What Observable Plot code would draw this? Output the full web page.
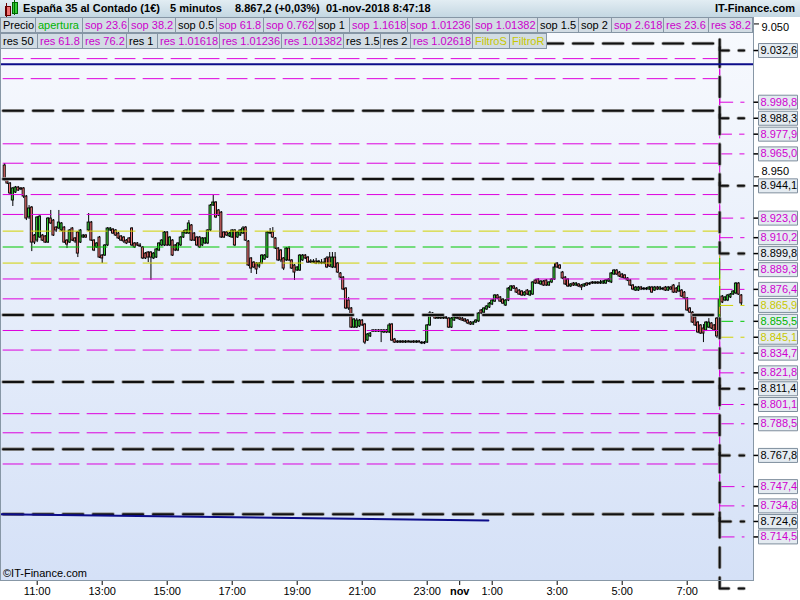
<!DOCTYPE html>
<html><head><meta charset="utf-8">
<script src="https://cdn.jsdelivr.net/npm/d3@7"></script>
<script src="https://cdn.jsdelivr.net/npm/@observablehq/plot@0.6"></script>
<style>
body{margin:0;background:#fff;font-family:"Liberation Sans",Arial,sans-serif;}
#wrap{position:relative;width:800px;height:600px;overflow:hidden;background:#fff;}
#plotbg{position:absolute;left:0;top:17px;width:753px;height:563px;background:linear-gradient(#f8fafe,#d5e1f7);}
#chart{position:absolute;left:0;top:0;}
#title{position:absolute;left:0;top:0;width:800px;height:17px;background:linear-gradient(#e2edf3,#c4d7e2);font-weight:bold;font-size:11px;color:#000;}
#title span{position:absolute;top:2px;white-space:nowrap;}
.row{position:absolute;left:0;height:16px;}
.row div{position:absolute;top:0;box-sizing:border-box;height:16px;line-height:14px;font-size:11px;padding:0 0 0 2px;border:1px solid #8696a5;background:#d2dce4;white-space:nowrap;overflow:hidden;}
#copy{position:absolute;left:3px;top:567px;font-size:11px;color:#000;}
</style></head>
<body>
<div id="wrap">
  <div id="plotbg"></div>
  <div id="chart"></div>
  <div id="title">
    <div style="position:absolute;left:5px;top:6px;width:4px;height:8px;background:#f07070;border:1px solid #600"></div>
    <div style="position:absolute;left:6px;top:3px;width:1px;height:14px;background:#600"></div>
    <div style="position:absolute;left:12px;top:2px;width:4px;height:10px;background:#3c3;border:1px solid #060"></div>
    <div style="position:absolute;left:14px;top:0px;width:1px;height:15px;background:#060"></div>
    <span style="left:23px">España 35 al Contado (1€)</span>
    <span style="left:170px">5 minutos</span>
    <span style="left:235px">8.867,2 (+0,03%)</span>
    <span style="left:326px">01-nov-2018 8:47:18</span>
    <span style="right:5px">IT-Finance.com</span>
  </div>
  <div class="row" id="row1" style="top:17px"></div>
  <div class="row" id="row2" style="top:33px"></div>
  <div id="copy">©IT-Finance.com</div>
</div>
<script>
// ---- candle data (5-minute bars from 31-oct-2018 10:00) ----
const open = [
8957.4,8947.6,8945.6,8934.5,8939.7,8943.0,8942.4,8942.4,8937.1,8923.4,
8929.9,8911.6,8908.3,8910.3,8911.6,8911.0,8907.0,8922.7,8921.4,8916.8,
8916.2,8914.9,8916.8,8908.3,8907.0,8916.2,8909.7,8913.6,8907.0,8910.3,
8911.6,8914.9,8920.1,8908.3,8903.8,8910.3,8898.5,8898.5,8905.1,8914.9,
8915.5,8914.9,8912.9,8911.0,8910.3,8908.3,8909.7,8916.2,8906.4,8906.4,
8905.1,8903.8,8899.8,8900.5,8900.5,8896.6,8897.2,8901.8,8905.1,8905.1,
8913.6,8905.1,8908.3,8905.1,8901.8,8905.1,8910.3,8912.9,8912.9,8918.2,
8912.9,8910.3,8910.3,8905.1,8906.4,8906.4,8914.9,8931.2,8933.2,8928.0,
8926.6,8913.6,8913.6,8911.0,8910.3,8914.9,8910.3,8911.6,8912.9,8916.8,
8907.7,8896.6,8893.9,8893.3,8891.3,8893.3,8895.9,8897.2,8912.9,8913.6,
8909.7,8903.1,8901.8,8896.6,8895.3,8903.1,8895.3,8892.0,8888.7,8888.7,
8895.3,8898.5,8897.2,8894.6,8893.9,8894.6,8893.9,8893.9,8893.3,8896.6,
8897.2,8890.7,8897.2,8893.3,8886.8,8884.1,8876.9,8869.1,8863.9,8851.4,
8851.4,8852.1,8856.0,8853.4,8842.9,8845.6,8849.5,8848.8,8849.5,8849.5,
8848.2,8849.5,8848.2,8853.4,8843.6,8842.3,8841.6,8842.3,8841.6,8842.3,
8841.6,8842.3,8841.6,8842.3,8841.6,8841.0,8841.6,8852.8,8860.6,8859.3,
8857.3,8858.0,8857.3,8858.0,8857.3,8851.4,8856.0,8858.0,8858.0,8857.3,
8856.7,8856.0,8854.7,8853.4,8854.7,8855.4,8862.6,8861.2,8863.2,8864.5,
8866.5,8868.4,8872.4,8871.1,8869.7,8865.8,8869.1,8875.6,8878.3,8876.9,
8875.6,8875.0,8872.4,8875.6,8872.4,8873.0,8882.2,8882.8,8879.6,8881.5,
8882.2,8878.9,8880.9,8882.8,8893.3,8892.0,8887.4,8884.1,8882.8,8878.3,
8880.2,8878.9,8879.6,8878.9,8878.3,8880.2,8879.6,8880.9,8880.2,8880.9,
8880.2,8880.2,8880.2,8881.5,8880.9,8886.1,8888.7,8887.4,8886.1,8885.5,
8883.5,8882.2,8878.9,8875.6,8875.6,8877.6,8876.3,8876.9,8876.3,8877.6,
8875.6,8877.6,8876.3,8876.9,8877.6,8875.6,8877.6,8878.9,8876.9,8875.0,
8875.6,8874.3,8870.4,8863.9,8861.2,8858.0,8854.7,8852.8,8850.8,8849.5,
8851.4,8854.1,8852.8,8857.3,8849.5,8871.7,8869.1,8869.1,8871.1,8873.0,
8873.7,8880.2,8872.4];
const high = [
8958.7,8948.2,8946.3,8943.0,8943.7,8943.7,8943.0,8943.0,8937.8,8931.2,
8930.6,8912.3,8924.0,8924.7,8912.3,8911.6,8923.4,8928.0,8922.1,8917.5,
8928.0,8920.1,8917.5,8909.0,8915.5,8916.8,8910.3,8914.2,8915.5,8912.3,
8912.3,8926.0,8920.8,8909.0,8907.0,8911.0,8899.2,8905.7,8916.8,8916.8,
8916.2,8915.5,8913.6,8911.6,8911.0,8909.0,8910.3,8916.8,8907.0,8907.0,
8906.4,8904.4,8900.5,8901.1,8901.1,8900.5,8903.1,8907.0,8909.0,8914.2,
8914.2,8911.0,8909.0,8905.7,8907.0,8911.0,8914.9,8915.5,8921.4,8918.8,
8913.6,8911.0,8911.0,8910.3,8910.3,8915.5,8931.9,8937.8,8933.8,8928.6,
8927.3,8914.2,8914.2,8913.6,8915.5,8915.5,8914.2,8915.5,8917.5,8917.5,
8908.3,8897.2,8894.6,8893.9,8893.9,8899.2,8899.2,8914.2,8916.2,8916.8,
8910.3,8903.8,8902.5,8897.2,8903.8,8904.4,8895.9,8892.6,8891.3,8899.2,
8899.2,8899.2,8897.9,8895.9,8895.9,8896.6,8895.3,8895.9,8896.6,8897.9,
8900.5,8900.5,8900.5,8893.9,8887.4,8884.8,8877.6,8871.1,8864.5,8857.3,
8857.3,8856.7,8856.7,8854.1,8847.5,8848.2,8850.1,8850.1,8850.1,8850.1,
8850.1,8850.1,8854.1,8854.1,8844.3,8842.9,8842.9,8842.9,8842.9,8842.9,
8842.3,8842.9,8842.9,8842.9,8842.3,8842.3,8853.4,8861.9,8861.2,8859.9,
8858.6,8858.6,8858.6,8858.6,8858.0,8858.0,8858.6,8858.6,8858.6,8858.0,
8857.3,8856.7,8855.4,8855.4,8856.7,8861.2,8863.2,8864.5,8865.8,8867.8,
8869.7,8873.0,8873.0,8871.7,8870.4,8869.7,8877.6,8878.9,8878.9,8877.6,
8876.3,8875.6,8875.0,8876.3,8875.6,8881.5,8882.8,8883.5,8882.2,8882.2,
8882.8,8881.5,8883.5,8893.3,8893.9,8892.6,8888.1,8884.8,8883.5,8880.2,
8880.9,8880.9,8880.2,8879.6,8880.2,8880.9,8880.9,8881.5,8881.5,8881.5,
8882.2,8882.2,8882.8,8883.5,8887.4,8889.4,8889.4,8888.1,8886.8,8886.1,
8884.1,8882.8,8879.6,8878.3,8878.3,8878.3,8877.6,8877.6,8878.3,8878.3,
8878.3,8878.3,8878.3,8877.6,8878.3,8878.3,8878.3,8879.6,8877.6,8880.9,
8876.3,8875.0,8871.1,8864.5,8861.9,8858.6,8855.4,8853.4,8853.4,8855.4,
8857.3,8854.7,8853.4,8858.0,8871.7,8872.4,8871.7,8873.0,8873.7,8875.6,
8880.9,8880.9,8873.0];
const low = [
8946.9,8945.0,8937.8,8930.6,8939.1,8940.4,8941.0,8935.8,8921.4,8922.1,
8901.1,8905.7,8907.0,8909.7,8907.7,8906.4,8906.4,8918.8,8911.0,8913.6,
8915.5,8914.2,8906.4,8903.1,8906.4,8907.7,8906.4,8897.2,8906.4,8909.7,
8909.7,8914.2,8907.7,8901.1,8903.1,8896.6,8893.3,8897.9,8904.4,8914.2,
8912.3,8911.0,8909.0,8907.7,8906.4,8905.7,8906.4,8904.4,8903.1,8904.4,
8903.8,8895.9,8895.9,8893.9,8882.2,8895.9,8896.6,8901.1,8904.4,8904.4,
8904.4,8904.4,8897.9,8901.1,8901.1,8904.4,8909.7,8912.3,8912.3,8907.7,
8907.7,8904.4,8903.1,8904.4,8905.7,8905.7,8914.2,8930.6,8922.7,8924.0,
8909.7,8909.7,8911.0,8910.3,8909.7,8904.4,8909.7,8911.0,8912.3,8907.7,
8891.3,8886.8,8890.0,8886.1,8890.0,8892.6,8895.3,8896.6,8912.3,8909.7,
8902.5,8894.6,8893.9,8888.7,8894.6,8894.6,8889.4,8882.2,8888.1,8888.1,
8894.6,8895.9,8893.3,8893.3,8893.3,8892.6,8892.6,8892.6,8892.6,8890.0,
8890.7,8890.0,8890.0,8886.8,8883.5,8875.6,8863.2,8862.6,8850.8,8850.8,
8850.8,8851.4,8852.1,8840.3,8842.3,8844.9,8848.2,8848.2,8848.2,8841.6,
8847.5,8847.5,8847.5,8842.3,8841.0,8841.0,8841.0,8841.0,8841.0,8841.6,
8841.0,8841.0,8841.0,8841.6,8840.3,8840.3,8841.0,8852.1,8858.0,8856.7,
8856.7,8856.7,8856.7,8856.7,8850.8,8850.8,8855.4,8856.7,8856.0,8855.4,
8854.7,8853.4,8852.8,8852.8,8854.1,8854.7,8859.9,8860.6,8862.6,8863.9,
8865.8,8867.8,8869.7,8867.8,8866.5,8865.2,8868.4,8875.0,8876.3,8873.7,
8872.4,8871.7,8871.7,8872.4,8871.7,8872.4,8879.6,8879.6,8878.9,8878.3,
8878.3,8878.3,8880.2,8882.2,8890.0,8889.4,8882.8,8878.9,8877.6,8877.6,
8878.3,8878.3,8877.6,8875.6,8877.6,8878.3,8878.9,8879.6,8879.6,8879.6,
8879.6,8879.6,8879.6,8880.9,8880.2,8885.5,8885.5,8884.1,8883.5,8882.8,
8881.5,8878.3,8875.6,8875.0,8875.0,8875.6,8875.6,8875.6,8875.6,8873.7,
8875.0,8875.6,8875.6,8875.6,8875.0,8875.0,8875.6,8873.7,8873.7,8874.3,
8871.1,8869.7,8861.9,8860.6,8854.1,8852.1,8847.5,8846.9,8841.6,8848.8,
8850.8,8850.1,8848.8,8844.3,8848.8,8867.1,8868.4,8868.4,8870.4,8872.4,
8873.0,8872.4,8865.8];
const close = [
8947.6,8945.6,8939.1,8942.4,8943.0,8941.0,8941.7,8937.1,8922.7,8929.3,
8907.0,8907.0,8923.4,8924.0,8908.3,8907.0,8922.7,8919.5,8911.6,8914.9,
8920.1,8919.5,8907.0,8905.7,8914.9,8908.3,8907.7,8899.8,8914.9,8911.6,
8910.3,8920.1,8908.3,8901.8,8906.4,8897.2,8896.6,8905.1,8916.2,8916.2,
8912.9,8911.6,8909.7,8908.3,8907.7,8906.4,8907.0,8905.1,8903.8,8905.1,
8904.4,8896.6,8896.6,8897.2,8897.2,8899.8,8902.5,8906.4,8908.3,8913.6,
8905.1,8910.3,8898.5,8901.8,8906.4,8910.3,8913.6,8914.9,8919.5,8908.3,
8908.3,8905.1,8903.8,8909.7,8909.7,8914.9,8931.2,8933.2,8923.4,8924.7,
8910.3,8910.3,8911.6,8912.9,8914.9,8905.1,8913.6,8914.9,8916.2,8908.3,
8892.0,8890.0,8890.7,8889.4,8893.3,8898.5,8898.5,8913.6,8913.6,8910.3,
8903.1,8895.3,8895.3,8890.0,8903.1,8895.3,8890.0,8887.4,8890.7,8898.5,
8898.5,8896.6,8893.9,8893.9,8894.6,8893.3,8894.6,8893.3,8893.9,8890.7,
8891.3,8897.2,8890.7,8887.4,8884.1,8876.3,8863.9,8863.9,8851.4,8856.7,
8856.0,8856.0,8852.8,8841.6,8846.9,8847.5,8848.8,8849.5,8848.8,8848.8,
8849.5,8848.2,8852.8,8842.9,8841.6,8841.6,8842.3,8841.6,8842.3,8841.6,
8842.3,8841.6,8842.3,8841.6,8841.0,8841.6,8852.8,8860.6,8858.6,8857.3,
8858.0,8857.3,8858.0,8857.3,8851.4,8857.3,8858.0,8857.3,8856.7,8856.0,
8855.4,8854.1,8853.4,8854.7,8856.0,8860.6,8860.6,8863.9,8865.2,8867.1,
8869.1,8872.4,8870.4,8868.4,8867.1,8869.1,8876.9,8878.3,8876.9,8874.3,
8873.0,8872.4,8874.3,8873.0,8875.0,8880.9,8880.2,8880.2,8881.5,8878.9,
8878.9,8880.9,8882.8,8890.7,8890.7,8890.0,8883.5,8879.6,8878.3,8879.6,
8878.9,8880.2,8878.3,8877.6,8879.6,8878.9,8880.2,8880.2,8880.9,8880.2,
8880.9,8881.5,8882.2,8882.8,8886.8,8888.7,8886.1,8884.8,8884.1,8883.5,
8882.2,8878.9,8876.3,8877.6,8877.6,8876.3,8876.9,8876.3,8877.6,8874.3,
8877.6,8876.3,8877.6,8876.3,8875.6,8877.6,8876.3,8874.3,8874.3,8878.3,
8871.7,8870.4,8862.6,8861.2,8854.7,8852.8,8848.2,8847.5,8847.5,8854.7,
8854.7,8850.8,8849.5,8845.6,8869.7,8867.8,8871.1,8872.4,8873.0,8875.0,
8880.2,8873.0,8867.2];

// ---- indicator levels: previous session value -> new session value ----
const blackPrev   = [9081.2, 9037.2, 8993.2, 8948.6, 8859.7, 8815.9, 8771.9, 8729.4];
const blackNew    = [9032.6, 8988.3, 8944.1, 8899.8, 8811.4, 8767.8, 8724.6, 8680.8];
const magentaPrev = [9047.4, 9027.3, 9014.2, 8971.6, 8958.9, 8938.4, 8925.4, 8883.2, 8870.2, 8849.5, 8836.7, 8795.1, 8782.6, 8762.2];
const magentaNew  = [8998.8, 8977.9, 8965.0, 8923.0, 8910.2, 8889.3, 8876.4, 8834.7, 8821.8, 8801.1, 8788.5, 8747.4, 8734.8, 8714.5];
const yellowPrev  = [8914.5, 8893.6];
const yellowNew   = [8865.9, 8845.1];
const greenPrev   = [8904.1];
const greenNew    = [8855.5];

// user drawn lines
const navyLevel = 9023.7;
const trendTimes = ["2018-10-31T09:52:15Z", "2018-11-01T00:53:00Z"];
const trendValues = [8729.4, 8725.2];

// axis ticks
const xTickTimes = ["2018-10-31T11:00Z","2018-10-31T13:00Z","2018-10-31T15:00Z","2018-10-31T17:00Z","2018-10-31T19:00Z","2018-10-31T21:00Z","2018-10-31T23:00Z","2018-11-01T00:00Z","2018-11-01T01:00Z","2018-11-01T03:00Z","2018-11-01T05:00Z","2018-11-01T07:00Z"];
const xTickLabels = ["11:00","13:00","15:00","17:00","19:00","21:00","23:00","nov","1:00","3:00","5:00","7:00"];
const yTicks = [9050, 8950];

// legend
const legend1 = ["Precio","apertura","sop 23.6","sop 38.2","sop 0.5","sop 61.8","sop 0.762","sop 1","sop 1.1618","sop 1.01236","sop 1.01382","sop 1.5","sop 2","sop 2.618","res 23.6","res 38.2"];
const legend1Kind = ["k","g","m","m","k","m","m","k","m","m","m","k","k","m","m","m"];
const legend2 = ["res 50","res 61.8","res 76.2","res 1","res 1.01618","res 1.01236","res 1.01382","res 1.5","res 2","res 1.02618","FiltroS","FiltroR"];
const legend2Kind = ["k","m","m","k","m","m","m","k","k","m","y","y"];

// legend box layout (pixel widths of the boxes)
const legend1Widths = [36,48,47,48,42,48,53,35,59,66,66,42,34,53,46,45];
const legend2Widths = [38,46,45,32,63,63,63,38,31,63,38,38];

// ---- build ----
const colors = {k: "#000000", m: "#cc00cc", g: "#00b400", y: "#c8c800"};
const lineColors = {k: "#111111", m: "#dd00dd", g: "#00c800", y: "#d2d200"};
function fillLegend(id, names, kinds, widths) {
  const row = document.getElementById(id);
  let x = 0;
  names.forEach((n, i) => {
    const d = document.createElement("div");
    d.textContent = n;
    d.style.color = colors[kinds[i]];
    d.style.left = x + "px";
    d.style.width = widths[i] + "px";
    x += widths[i] - 1;
    row.appendChild(d);
  });
}
fillLegend("row1", legend1, legend1Kind, legend1Widths);
fillLegend("row2", legend2, legend2Kind, legend2Widths);

const t0 = Date.UTC(2018, 9, 31, 10, 0);
const candles = open.map((o, i) => ({t: new Date(t0 + i * 300000), open: o, high: high[i], low: low[i], close: close[i]}));

const lineStart = new Date("2018-10-31T09:57:00Z");
const switchTime = new Date("2018-11-01T08:00:00Z");
const lineEnd = new Date("2018-11-01T08:45:00Z");
function steps(prev, next, g) {
  return prev.flatMap((p, k) => [
    {id: g + k, t: lineStart, p},
    {id: g + k, t: switchTime, p},
    {id: g + k, t: switchTime, p: next[k]},
    {id: g + k, t: lineEnd, p: next[k]}
  ]);
}
const blackRows = steps(blackPrev, blackNew, "k");
const magentaRows = steps(magentaPrev, magentaNew, "m");
const yellowRows = steps(yellowPrev, yellowNew, "y");
const greenRows = steps(greenPrev, greenNew, "g");
const trend = trendTimes.map((t, i) => ({t: new Date(t), p: trendValues[i]}));

const yMin = 8686.0, yMax = 9054.2;
const rightLabels = [
  ...blackNew.map(p => ({p, k: "k"})),
  ...magentaNew.map(p => ({p, k: "m"})),
  ...yellowNew.map(p => ({p, k: "y"})),
  ...greenNew.map(p => ({p, k: "g"}))
].filter(d => d.p > yMin && d.p < yMax);
const labelColor = {k: "#000", m: "#d000d0", y: "#c8c800", g: "#00b400"};

const es = d3.formatLocale({decimal: ",", thousands: ".", grouping: [3], currency: ["", "€"]});
const fmt1 = es.format(",.1f");
const fmt0 = es.format(",.0f");
const tickLabelMap = new Map(xTickTimes.map((s, i) => [+new Date(s), xTickLabels[i]]));

const boxSym = {draw(ctx) { ctx.moveTo(-19.5, -7); ctx.lineTo(19.5, -7); ctx.lineTo(19.5, 7); ctx.lineTo(-19.5, 7); ctx.closePath(); }};
const dashSym = {draw(ctx) { ctx.moveTo(-2.5, 0); ctx.lineTo(2.5, 0); }};

const chart = Plot.plot({
  width: 800, height: 600,
  marginTop: 17, marginBottom: 20, marginLeft: 0, marginRight: 47,
  style: {background: "transparent", fontFamily: "Liberation Sans, Arial, sans-serif", fontSize: "11px", color: "#000", overflow: "visible"},
  x: {type: "utc", domain: [new Date("2018-10-31T09:52:15Z"), new Date("2018-11-01T09:02:25Z")],
      ticks: xTickTimes.map(s => new Date(s)), tickFormat: d => tickLabelMap.get(+d), tickSize: 5, tickPadding: 2, label: null},
  y: {domain: [yMin, yMax], axis: "right", ticks: yTicks, tickFormat: fmt0, tickSize: 5, tickPadding: 3, label: null},
  marks: [
    Plot.ruleX(candles, {x: "t", y1: "low", y2: "high", stroke: "#000", strokeWidth: 1}),
    Plot.rect(candles, {x1: d => new Date(+d.t - 115000), x2: d => new Date(+d.t + 115000), y1: "open", y2: "close",
      fill: d => d.close >= d.open ? "#3acd3a" : "#f07272", stroke: "#000", strokeWidth: 0.9}),
    Plot.line(magentaRows, {x: "t", y: "p", z: "id", stroke: lineColors.m, strokeWidth: 1, strokeDasharray: "20,8"}),
    Plot.line(yellowRows, {x: "t", y: "p", z: "id", stroke: lineColors.y, strokeWidth: 1, strokeDasharray: "20,8"}),
    Plot.line(greenRows, {x: "t", y: "p", z: "id", stroke: lineColors.g, strokeWidth: 1, strokeDasharray: "20,8"}),
    Plot.line(blackRows, {x: "t", y: "p", z: "id", stroke: "#a0a0a0", strokeWidth: 3.6, strokeDasharray: "20,10"}),
    Plot.line(blackRows, {x: "t", y: "p", z: "id", stroke: lineColors.k, strokeWidth: 2, strokeDasharray: "20,10"}),
    Plot.ruleY([navyLevel], {stroke: "#0c0c8a", strokeWidth: 2}),
    Plot.line(trend, {x: "t", y: "p", stroke: "#0c0c8a", strokeWidth: 2}),
    Plot.frame({stroke: "#8797a6"}),
    Plot.dot(rightLabels, {y: "p", frameAnchor: "right", dx: 2.5, symbol: dashSym, r: 3, stroke: "#000", fill: "none"}),
    Plot.dot(rightLabels, {y: "p", frameAnchor: "right", dx: 24.5, symbol: boxSym, r: 3, fill: "#e4ebf1", stroke: "#7f8e9d", strokeWidth: 1}),
    Plot.text(rightLabels, {y: "p", frameAnchor: "right", dx: 7, textAnchor: "start", text: d => fmt1(d.p), fill: d => labelColor[d.k], fontSize: 11})
  ]
});
document.getElementById("chart").appendChild(chart);
const svgSel = d3.select(chart);
svgSel.selectAll("text").filter(function() { return this.textContent === "nov"; }).attr("font-weight", "bold");
// nudge the two plain price ticks as in the reference (keeps 8.950 clear of the 8.944,1 box)
const nudge = {"9.050": 4, "8.950": -5};
svgSel.selectAll("text").each(function() {
  const n = nudge[this.textContent];
  if (n !== undefined) this.setAttribute("transform", (this.getAttribute("transform") || "") + ` translate(0,${n})`);
});
</script>
</body></html>
